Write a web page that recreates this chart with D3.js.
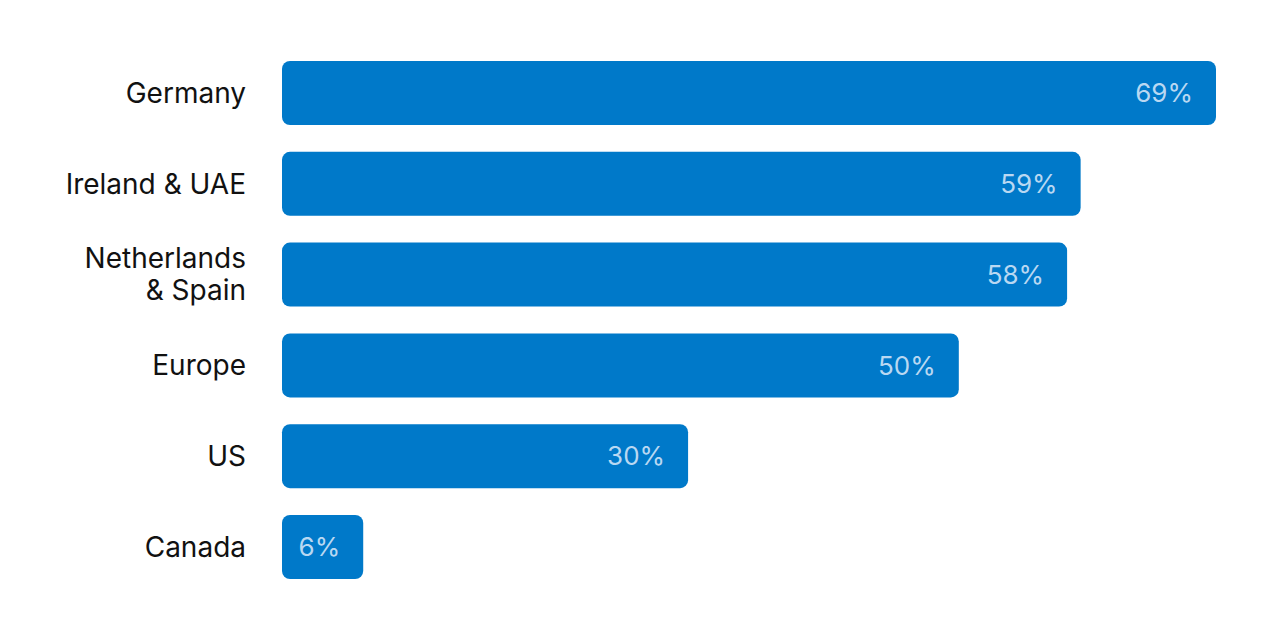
<!DOCTYPE html>
<html><head><meta charset="utf-8">
<script src="https://cdn.jsdelivr.net/npm/d3@7"></script>
<style>html,body{margin:0;padding:0;background:#fff;}svg{display:block;}</style>
</head><body>
<svg id="chart" width="1280" height="635"></svg>
<script>
const categories = [["Germany"], ["Ireland & UAE"], ["Netherlands", "& Spain"], ["Europe"], ["US"], ["Canada"]];
const values = [69, 59, 58, 50, 30, 6];
const valueLabels = ["69%", "59%", "58%", "50%", "30%", "6%"];

const svg = d3.select("#chart");
const font = "Inter, 'Noto Sans', sans-serif";
const x = d3.scaleLinear().domain([0, 69]).range([282, 1216]);
const y = d3.scaleBand().domain(d3.range(categories.length)).range([61, 579]).paddingInner(0.2952).paddingOuter(0);

const g = svg.append("g");
const rows = g.selectAll("g.row").data(values).join("g").attr("class", "row");

rows.append("rect")
  .attr("x", x(0))
  .attr("y", (d, i) => y(i))
  .attr("width", d => x(d) - x(0))
  .attr("height", y.bandwidth())
  .attr("rx", 8).attr("ry", 8)
  .attr("fill", "#0079c9");

rows.append("text")
  .attr("x", d => x(d) - 23)
  .attr("y", (d, i) => y(i) + y.bandwidth() / 2)
  .attr("dy", "0.35em")
  .attr("text-anchor", "end")
  .attr("font-family", font)
  .attr("font-size", 26)
  .attr("fill", "#b9d8f2")
  .text((d, i) => valueLabels[i]);

const lab = rows.append("text")
  .attr("x", x(0) - 36)
  .attr("y", (d, i) => y(i) + y.bandwidth() / 2)
  .attr("text-anchor", "end")
  .attr("font-family", font)
  .attr("font-size", 28)
  .attr("fill", "#111");

lab.each(function(d, i) {
  const lines = categories[i];
  const n = lines.length;
  const t = d3.select(this);
  lines.forEach((l, k) => {
    t.append("tspan")
      .attr("x", x(0) - 36)
      .attr("dy", k === 0 ? ((0.35 - (n - 1) * 0.575) + "em") : "1.15em")
      .text(l);
  });
});
</script>
</body></html>
